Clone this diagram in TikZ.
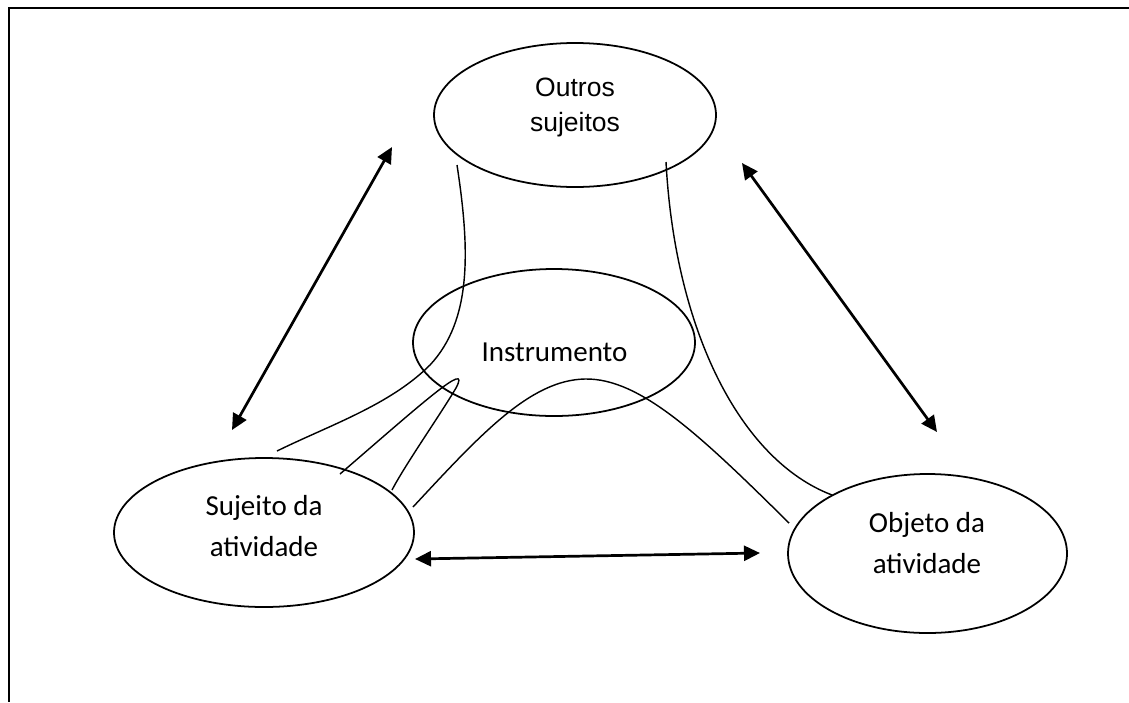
\documentclass[tikz,border=0pt]{standalone}
\usepackage{fontspec}
\setmainfont{Carlito}
\newfontfamily\arialfont{Liberation Sans}
\usetikzlibrary{arrows.meta,shapes.geometric}
\tikzset{
	oval/.style={draw, ellipse, line width=0.62mm, inner sep=0pt},
	txt/.style={align=center, inner sep=0pt, font=\fontsize{29}{41}\selectfont},
	arialtxt/.style={align=center, inner sep=0pt, font=\arialfont\fontsize{26.5}{35}\selectfont},
	link/.style={line width=0.5mm},
	dbl/.style={line width=0.95mm, {Triangle[length=16pt,width=15pt]}-{Triangle[length=16pt,width=15pt]}}
}

\begin{document}
\begin{tikzpicture}[x=1pt, y=-1pt]
			%%%%% START %%%%%
			\useasboundingbox (0, 0) rectangle (1129, 702);
			
			\draw[line width=0.85mm] (1129, 8) -- (9, 8) -- (9, 702);
			
			% ellipses
			\node[oval, minimum width=282pt, minimum height=144pt] (outros) at (575, 115) {};
			\node[oval, minimum width=282pt, minimum height=147pt] (instr) at (554, 342.5) {};
			\node[oval, minimum width=300pt, minimum height=149pt] (sujeito) at (264, 532.5) {};
			\node[oval, minimum width=279pt, minimum height=159pt] (objeto) at (927.5, 553.5) {};
			
			\node[arialtxt] (outros-txt) at (575, 107.5) {Outros\\sujeitos};
			\node[txt] (instr-txt) at (554.5, 352.5) {Instrumento};
			\node[txt] (sujeito-txt) at (264, 526.5) {Sujeito da\\atividade};
			\node[txt] (objeto-txt) at (927, 543.5) {Objeto da\\atividade};
			
			% arrow ends
			\coordinate (so-a) at (232, 430);
			\coordinate (so-b) at (392, 147);
			\coordinate (oo-a) at (742, 163);
			\coordinate (oo-b) at (937, 432);
			\coordinate (sj-a) at (415, 559);
			\coordinate (sj-b) at (760, 553);
			
			\draw[dbl] (so-a) -- (so-b);
			\draw[dbl] (oo-a) -- (oo-b);
			\draw[dbl] (sj-a) -- (sj-b);
			
			% thin links
			\coordinate (l1-a) at (457, 165);
			\coordinate (l1-m) at (430, 365);
			\coordinate (l1-b) at (277, 451);
			\coordinate (l2-a) at (340, 474);
			\coordinate (l2-m) at (456, 388);
			\coordinate (l2-b) at (392, 490);
			\coordinate (l3-a) at (413, 507);
			\coordinate (l3-m) at (585, 379);
			\coordinate (l3-b) at (789, 523);
			\coordinate (l4-a) at (666, 162);
			\coordinate (l4-b) at (832, 495);
			
			\draw[link] (l1-a) .. controls (470, 250) and (472, 320) .. (l1-m) .. controls (390, 405) and (330, 425) .. (l1-b);
			\draw[link] (l2-a) .. controls (420, 405) and (472, 358) .. (l2-m) .. controls (440, 415) and (405, 465) .. (l2-b);
			\draw[link] (l3-a) .. controls (480, 435) and (530, 380) .. (l3-m) .. controls (640, 378) and (700, 435) .. (l3-b);
			\draw[link] (l4-a) .. controls (675, 330) and (740, 460) .. (l4-b);
			
			%%%%% END %%%%%
		\end{tikzpicture}
\end{document}
